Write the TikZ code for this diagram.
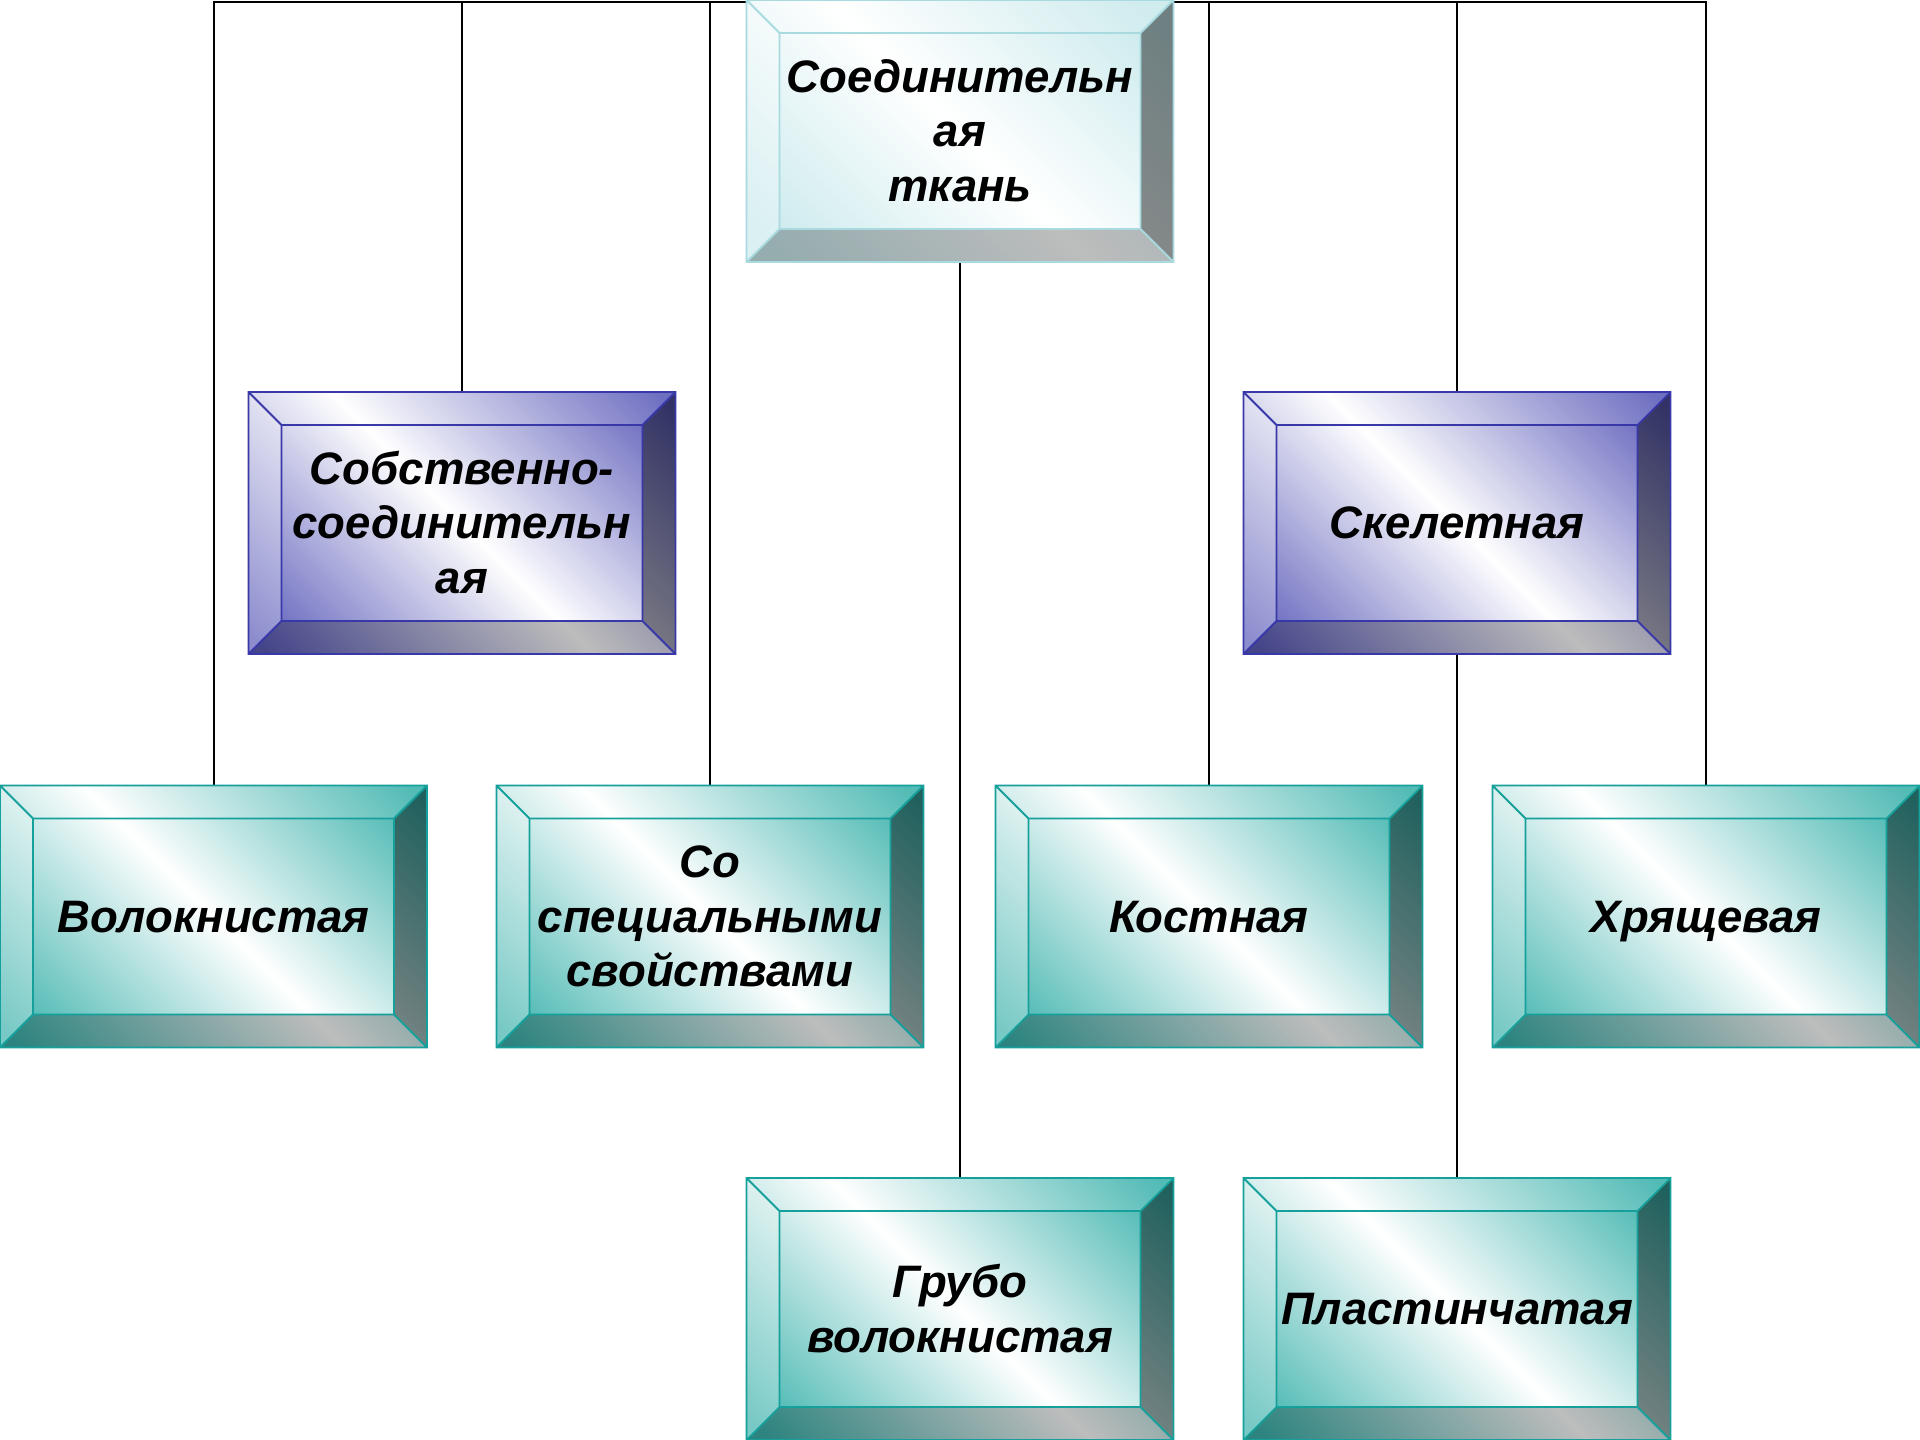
\documentclass[tikz,border=0pt]{standalone}
\usepackage{fontspec}
\setmainfont{Liberation Sans}
\definecolor{tealc}{RGB}{60,178,172}
\definecolor{teall}{RGB}{22,160,155}
\definecolor{purc}{RGB}{92,92,186}
\definecolor{purl}{RGB}{56,56,168}
\definecolor{palec}{RGB}{203,234,237}
\definecolor{palel}{RGB}{168,218,224}
\pgfdeclarehorizontalshading{tealgrad}{100bp}{color(0bp)=(tealc); color(23bp)=(tealc); color(50bp)=(white); color(77bp)=(tealc); color(100bp)=(tealc)}
\pgfdeclarehorizontalshading{purgrad}{100bp}{color(0bp)=(purc); color(23bp)=(purc); color(50bp)=(white); color(77bp)=(purc); color(100bp)=(purc)}
\pgfdeclarehorizontalshading{palegrad}{100bp}{color(0bp)=(palec); color(25bp)=(palec); color(50bp)=(white); color(75bp)=(palec); color(100bp)=(palec)}
\pgfdeclarelayer{back}
\pgfdeclarelayer{bg}
\pgfsetlayers{back,bg,main}
\newcommand\ls{\rule[-9.75pt]{0pt}{51.4pt}}
\tikzset{
  boxtext/.style={inner sep=0pt, minimum width=427pt, minimum height=262pt, align=center,
    font=\fontsize{45.5}{54.5}\selectfont\bfseries\itshape, text=black},
  conn/.style={draw=black, line width=2pt},
  tealline/.style={draw=teall, line width=1.8pt},
  purline/.style={draw=purl, line width=1.8pt},
  paleline/.style={draw=palel, line width=1.8pt},
}
\newcommand\bevelbox[5]{%
  \begin{scope}[shift={(#2,#3)}]
    \begin{scope}
      \clip (-213.5,-131) rectangle (213.5,131);
      \shade[shading=#4grad, shading angle=45] (-213.5,-213.5) rectangle (213.5,213.5);
    \end{scope}
    \fill[white, opacity=0.12] (-213.5,-131) -- (213.5,-131) -- (180.5,-98) -- (-180.5,-98) -- cycle;
    \fill[white, opacity=0.3] (-213.5,-131) -- (-180.5,-98) -- (-180.5,98) -- (-213.5,131) -- cycle;
    \fill[black, opacity=0.45] (213.5,-131) -- (213.5,131) -- (180.5,98) -- (180.5,-98) -- cycle;
    \fill[black, opacity=0.26] (-213.5,131) -- (213.5,131) -- (180.5,98) -- (-180.5,98) -- cycle;
    \draw[#4line] (-213.5,-131) rectangle (213.5,131)
      (-180.5,-98) rectangle (180.5,98)
      (-213.5,-131) -- (-180.5,-98) (213.5,-131) -- (180.5,-98)
      (-213.5,131) -- (-180.5,98) (213.5,131) -- (180.5,98);
  \end{scope}
  \node[boxtext] (#1) at (#2,#3) {#5};
}
\begin{document}
\begin{tikzpicture}[x=1pt,y=-1pt]
\begin{pgfonlayer}{back}
\fill[white] (0,0) rectangle (1920,1440);
\end{pgfonlayer}
\useasboundingbox (0,0) rectangle (1920,1440);
\bevelbox{tissue}{960}{131}{pale}{\ls Соединительн\\\ls ая\\\ls ткань}
\bevelbox{sobst}{462}{523}{pur}{\ls Собственно-\\\ls соединительн\\\ls ая}
\bevelbox{skel}{1457}{523}{pur}{\ls Скелетная}
\bevelbox{volok}{213.5}{916.5}{teal}{\ls Волокнистая}
\bevelbox{spec}{710}{916.5}{teal}{\ls Со\\\ls специальными\\\ls свойствами}
\bevelbox{kost}{1209}{916.5}{teal}{\ls Костная}
\bevelbox{hrya}{1706}{916.5}{teal}{\ls Хрящевая}
\bevelbox{grubo}{960}{1309}{teal}{\ls Грубо\\\ls волокнистая}
\bevelbox{plast}{1457}{1309}{teal}{\ls Пластинчатая}
\coordinate (bus) at (960,1.5);
\begin{pgfonlayer}{bg}
\draw[conn] (volok.north) -- (volok.north |- bus) -| (hrya.north);
\draw[conn] (sobst.north) -- (sobst.north |- bus);
\draw[conn] (spec.north) -- (spec.north |- bus);
\draw[conn] (kost.north) -- (kost.north |- bus);
\draw[conn] (skel.north) -- (skel.north |- bus);
\draw[conn] (tissue.south) -- (grubo.north);
\draw[conn] (skel.south) -- (plast.north);
\end{pgfonlayer}
\end{tikzpicture}
\end{document}
